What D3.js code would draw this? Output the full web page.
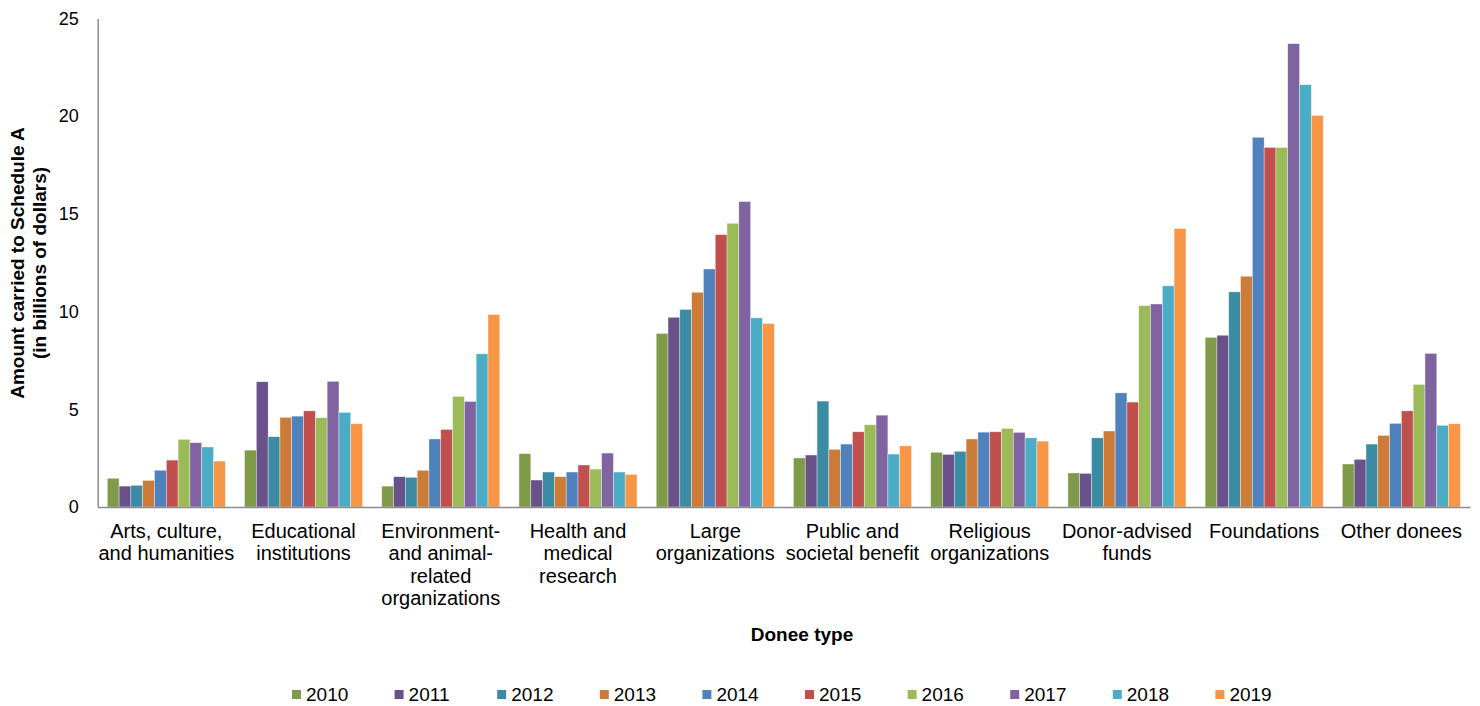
<!DOCTYPE html>
<html>
<head>
<meta charset="utf-8">
<script src="https://cdn.jsdelivr.net/npm/d3@7"></script>
<style>
  body { margin: 0; background: #fff; }
  text { font-family: "Liberation Sans", Arial, sans-serif; fill: #000; }
</style>
</head>
<body>
<script>
// donee types (\n = line break in the axis label)
var categories = [
    "Arts, culture,\nand humanities",
    "Educational\ninstitutions",
    "Environment-\nand animal-\nrelated\norganizations",
    "Health and\nmedical\nresearch",
    "Large\norganizations",
    "Public and\nsocietal benefit",
    "Religious\norganizations",
    "Donor-advised\nfunds",
    "Foundations",
    "Other donees"
];

var years = ["2010", "2011", "2012", "2013", "2014", "2015", "2016", "2017", "2018", "2019"];

// billions of dollars, one array per year, in category order
var v2010 = [1.47, 2.91, 1.07, 2.73, 8.88, 2.51, 2.80, 1.74, 8.68, 2.20];
var v2011 = [1.07, 6.41, 1.55, 1.38, 9.71, 2.66, 2.69, 1.72, 8.79, 2.44];
var v2012 = [1.11, 3.60, 1.52, 1.79, 10.11, 5.42, 2.85, 3.54, 11.01, 3.22];
var v2013 = [1.36, 4.59, 1.88, 1.55, 10.99, 2.95, 3.48, 3.89, 11.81, 3.66];
var v2014 = [1.88, 4.65, 3.48, 1.79, 12.18, 3.22, 3.83, 5.84, 18.92, 4.28];
var v2015 = [2.40, 4.92, 3.97, 2.15, 13.94, 3.85, 3.85, 5.37, 18.40, 4.92];
var v2016 = [3.46, 4.57, 5.66, 1.94, 14.52, 4.21, 4.02, 10.31, 18.40, 6.27];
var v2017 = [3.29, 6.43, 5.40, 2.76, 15.63, 4.70, 3.82, 10.39, 23.71, 7.86];
var v2018 = [3.07, 4.84, 7.84, 1.79, 9.68, 2.71, 3.54, 11.32, 21.61, 4.18];
var v2019 = [2.35, 4.26, 9.85, 1.67, 9.39, 3.13, 3.37, 14.25, 20.04, 4.26];

var yTicks = [0, 5, 10, 15, 20, 25];

var colors = ["#7f9a48", "#69518a", "#3b8ba2", "#cc7b38", "#4f81bd",
              "#c0504d", "#9bbb59", "#8064a2", "#4bacc6", "#f79646"];

var series = [v2010, v2011, v2012, v2013, v2014, v2015, v2016, v2017, v2018, v2019];

var width = 1480, height = 706;
var plotLeft = 97.7, plotRight = 1470, plotTop = 18.5, plotBottom = 507;

var svg = d3.select("body").append("svg")
    .attr("width", width)
    .attr("height", height);

var x0 = d3.scaleBand()
    .domain(categories)
    .range([plotLeft, plotRight])
    .paddingInner(0.14)
    .paddingOuter(0.07);

var x1 = d3.scaleBand()
    .domain(years)
    .range([0, x0.bandwidth()]);

var y = d3.scaleLinear()
    .domain([0, 25])
    .range([plotBottom, plotTop]);

var color = d3.scaleOrdinal().domain(years).range(colors);

// bars
var groups = svg.selectAll(".cat")
    .data(categories)
    .enter().append("g")
    .attr("class", "cat")
    .attr("transform", function(d) { return "translate(" + x0(d) + ",0)"; });

groups.selectAll("rect")
    .data(function(d, i) {
        return years.map(function(yr, j) { return {year: yr, value: series[j][i]}; });
    })
    .enter().append("rect")
    .attr("x", function(d) { return x1(d.year); })
    .attr("width", x1.bandwidth())
    .attr("y", function(d) { return y(d.value); })
    .attr("height", function(d) { return plotBottom - y(d.value); })
    .attr("fill", function(d) { return color(d.year); })
    .attr("stroke", "#ffffff")
    .attr("stroke-opacity", 0.6)
    .attr("stroke-width", 0.6);

// y axis
var yAxis = svg.append("g")
    .attr("transform", "translate(" + plotLeft + ",0)")
    .call(d3.axisLeft(y).tickValues(yTicks).tickSize(0).tickPadding(19));
yAxis.select(".domain").attr("stroke", "#8c8c8c").attr("stroke-width", 1.5);
yAxis.selectAll("text")
    .style("font-size", "18px")
    .style("font-family", "'Liberation Sans', Arial, sans-serif")
    .attr("fill", "#000");

// x axis
var xAxis = svg.append("g")
    .attr("transform", "translate(0," + plotBottom + ")")
    .call(d3.axisBottom(x0).tickSize(0).tickFormat(""));
xAxis.select(".domain").attr("stroke", "#8c8c8c").attr("stroke-width", 1.5);

// category labels with line breaks
svg.selectAll(".catLabel")
    .data(categories)
    .enter().append("text")
    .attr("class", "catLabel")
    .attr("text-anchor", "middle")
    .style("font-size", "20px")
    .each(function(d) {
        var t = d3.select(this);
        d.split("\n").forEach(function(line, i) {
            t.append("tspan")
                .attr("x", x0(d) + x0.bandwidth() / 2)
                .attr("y", 538 + i * 22.3)
                .text(line);
        });
    });

// axis titles
svg.append("text")
    .attr("text-anchor", "middle")
    .attr("transform", "translate(24,263) rotate(-90)")
    .style("font-size", "19px")
    .style("font-weight", "bold")
    .text("Amount carried to Schedule A");

svg.append("text")
    .attr("text-anchor", "middle")
    .attr("transform", "translate(46,263) rotate(-90)")
    .style("font-size", "19px")
    .style("font-weight", "bold")
    .text("(in billions of dollars)");

svg.append("text")
    .attr("text-anchor", "middle")
    .attr("x", 802)
    .attr("y", 641)
    .style("font-size", "19px")
    .style("font-weight", "bold")
    .text("Donee type");

// legend
var legend = svg.selectAll(".legend")
    .data(years)
    .enter().append("g")
    .attr("class", "legend")
    .attr("transform", function(d, i) { return "translate(" + (292 + i * 102.6) + ",690)"; });

legend.append("rect")
    .attr("width", 9)
    .attr("height", 9)
    .attr("fill", function(d) { return color(d); });

legend.append("text")
    .attr("x", 14)
    .attr("y", 10.5)
    .style("font-size", "19px")
    .text(function(d) { return d; });
</script>
</body>
</html>
